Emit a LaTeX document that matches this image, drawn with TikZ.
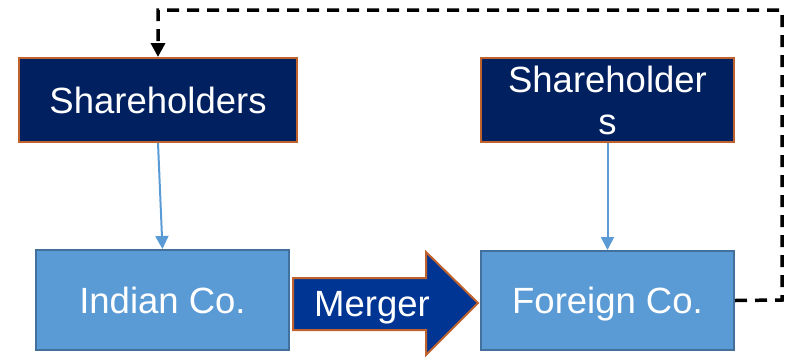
\documentclass[tikz,border=0pt]{standalone}
\usepackage{fontspec}
\setmainfont{Liberation Sans}
\usetikzlibrary{arrows.meta}
\definecolor{navy}{HTML}{002060}
\definecolor{rust}{HTML}{C0622E}
\definecolor{lblue}{HTML}{5B9BD5}
\definecolor{lborder}{HTML}{41719C}
\definecolor{merg}{HTML}{003594}
\tikzset{
  holder/.style={draw=rust, fill=navy, line width=2pt, text=white, inner sep=0pt,
    font=\fontsize{36.5}{42}\selectfont, align=center},
  company/.style={draw=lborder, fill=lblue, line width=2pt, text=white, inner sep=0pt,
    font=\fontsize{36.5}{42}\selectfont, text height=26pt, text depth=0pt},
  link/.style={draw=lblue, line width=2pt, -{Triangle[length=13pt,width=13pt]}},
  feedback/.style={draw=black, line width=3.5pt, dash pattern=on 12pt off 8pt,
    -{Triangle[length=14pt,width=14pt]}}
}
\begin{document}
\begin{tikzpicture}[x=1pt,y=-1pt]
\useasboundingbox (0,0) rectangle (788,357);
\node[holder, minimum width=278pt, minimum height=84pt, text height=26pt, text depth=0pt] (sl) at (158,100) {Shareholders};
\node[holder, minimum width=253pt, minimum height=84pt] (sr) at (607.5,100) {Shareholder\\s};
\node[company, minimum width=253pt, minimum height=100pt] (ind) at (162.5,300) {Indian Co.};
\node[company, minimum width=253pt, minimum height=99pt] (for) at (607.5,300.5) {Foreign Co.};
\draw[link] (sl.south) -- (ind.north);
\draw[link] (sr.south) -- (for.north);
\draw[draw=rust, fill=merg, line width=2pt, line join=miter]
  (293,278) -- (426,278) -- (426,252) -- (478,303) -- (426,355) -- (426,330) -- (293,330) -- cycle;
\node[text=white, font=\fontsize{36.5}{42}\selectfont, inner sep=0pt, text height=26pt, text depth=0pt] (mg) at (372,303.5) {Merger};
\coordinate (c1) at (782,300);
\coordinate (c2) at (782,10);
\coordinate (c3) at (158,10);
\draw[feedback] (for.east) -- (c1) -- (c2) -- (c3) -- (sl.north);
\end{tikzpicture}
\end{document}
